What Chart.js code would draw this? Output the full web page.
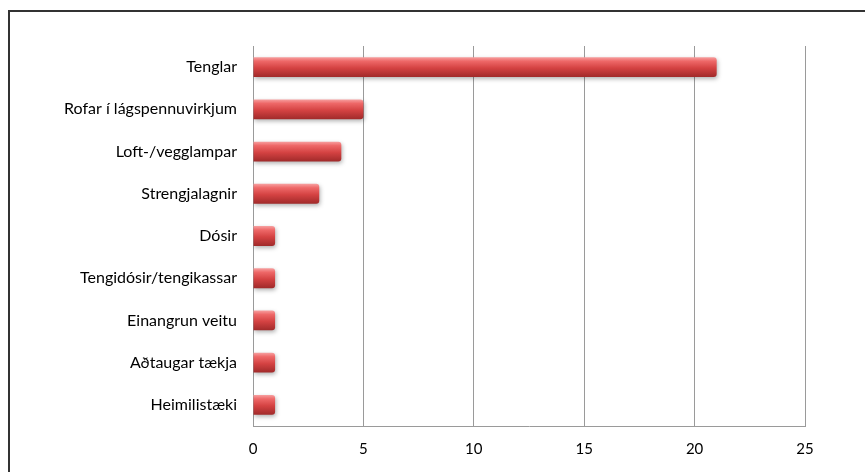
<!DOCTYPE html>
<html>
<head>
<meta charset="utf-8">
<script src="https://cdn.jsdelivr.net/npm/chart.js@4.4.0/dist/chart.umd.min.js"></script>
<style>
html,body{margin:0;padding:0;background:#fff;overflow:hidden;}
#wrap{position:relative;width:865px;height:472px;overflow:hidden;}
#frame{position:absolute;left:8px;top:10px;width:900px;height:500px;box-sizing:border-box;border-style:solid;border-width:2px 0 0 2px;border-color:#333;}
canvas{position:absolute;left:0;top:0;}
</style>
</head>
<body>
<div id="wrap">
<div id="frame"></div>
<canvas id="c" width="865" height="472"></canvas>
</div>
<script>
const categories = ["Tenglar","Rofar í lágspennuvirkjum","Loft-/vegglampar","Strengjalagnir","Dósir","Tengidósir/tengikassar","Einangrun veitu","Aðtaugar tækja","Heimilistæki"];
const values = [21,5,4,3,1,1,1,1,1];
const tickValues = [0,5,10,15,20,25];

const gradPlugin = {
  id: 'gradPlugin',
  beforeDatasetsDraw(chart) {
    const ctx = chart.ctx;
    const meta = chart.getDatasetMeta(0);
    meta.data.forEach(el => {
      const top = el.y - el.height/2, bot = el.y + el.height/2;
      const g = ctx.createLinearGradient(0, top, 0, bot);
      g.addColorStop(0, '#f7a0a0');
      g.addColorStop(0.2, '#ee6868');
      g.addColorStop(0.55, '#d44242');
      g.addColorStop(1, '#a02a2a');
      el.options = Object.assign({}, el.options, {backgroundColor: g});
    });
    ctx.save();
    ctx.shadowColor = 'rgba(0,0,0,0.3)';
    ctx.shadowBlur = 4;
    ctx.shadowOffsetX = 1;
    ctx.shadowOffsetY = 2;
  },
  afterDatasetsDraw(chart) {
    chart.ctx.restore();
  }
};

new Chart(document.getElementById('c'), {
  type: 'bar',
  data: {
    labels: categories,
    datasets: [{
      data: values,
      backgroundColor: '#d23c3c',
      borderWidth: 0,
      borderRadius: {topLeft:0, bottomLeft:0, topRight:3, bottomRight:3},
      borderSkipped: 'start',
      categoryPercentage: 1,
      barPercentage: 0.47
    }]
  },
  options: {
    indexAxis: 'y',
    responsive: false,
    animation: false,
    devicePixelRatio: 1,
    layout: { padding: { left: 8, top: 46, right: 60, bottom: 0 } },
    plugins: { legend: { display: false }, tooltip: { enabled: false } },
    scales: {
      x: {
        min: 0, max: 25,
        afterBuildTicks(axis) { axis.ticks = tickValues.map(v => ({value: v})); },
        afterFit(axis) { axis.height = 46; },
        grid: { color: '#9a9a9a', lineWidth: 1, drawTicks: false },
        border: { display: true, color: '#9a9a9a', width: 1 },
        ticks: { padding: 14, color: '#000', font: { family: 'Lato, "Open Sans", sans-serif', size: 15 } }
      },
      y: {
        afterFit(axis) { axis.width = 245; },
        grid: { display: false, drawTicks: false },
        border: { display: true, color: '#9a9a9a', width: 1 },
        ticks: { padding: 16, color: '#000', font: { family: 'Lato, "Open Sans", sans-serif', size: 16 } }
      }
    }
  },
  plugins: [gradPlugin]
});
</script>
</body>
</html>
